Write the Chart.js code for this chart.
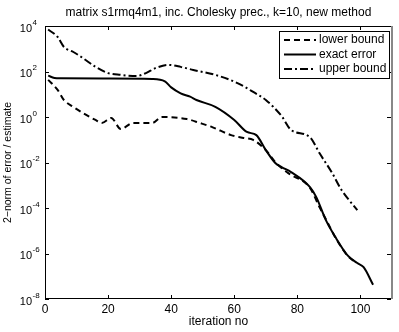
<!DOCTYPE html>
<html>
<head>
<meta charset="utf-8">
<title>matrix s1rmq4m1, inc. Cholesky prec., k=10, new method</title>
<script src="https://cdn.jsdelivr.net/npm/chart.js@4.4.0/dist/chart.umd.min.js"></script>
<style>
  html, body { margin: 0; padding: 0; background: #fff; }
  #wrap { width: 399px; height: 332px; }
</style>
</head>
<body>
<div id="wrap"><canvas id="chart" width="399" height="332"></canvas></div>
<script>
// Values (iteration no, 2-norm value)
const lowerIter = [1, 4, 6, 9, 12, 16, 18, 21, 24, 28, 34, 37, 45, 49, 53, 59, 63, 66, 70, 73, 77, 84, 87, 89, 92, 96, 98];
const lowerVals = [43, 15.5, 5.6, 2.75, 1.5, 0.74, 0.55, 0.91, 0.3, 0.55, 0.55, 1.0, 0.81, 0.55, 0.36, 0.16, 0.12, 0.098,
                   0.035, 0.0105, 3.5e-3, 7.6e-4, 1.1e-4, 3.3e-5, 5.2e-6, 7.8e-7, 4.6e-7];

const exactIter = [1, 3, 5, 20, 34, 38, 40, 43, 46, 48, 54, 60, 64, 67, 70, 73, 75, 78, 84, 86, 89, 92, 96, 99, 101, 104];
const exactVals = [66, 52, 50, 49, 47, 37, 20, 11, 7.8, 5.6, 2.8, 0.74, 0.22, 0.16, 0.035, 9.5e-3, 6.3e-3, 3.8e-3,
                   8.3e-4, 3.0e-4, 3.0e-5, 5.4e-6, 8e-7, 3.8e-7, 2.5e-7, 4.2e-8];

const upperIter = [1, 4, 6, 9, 12, 16, 20, 24, 29, 32, 35, 39, 43, 47, 54, 61, 66, 70, 75, 78, 84, 87, 91, 94, 99];
const upperVals = [7000, 3300, 1200, 720, 390, 160, 85, 71, 63, 85, 140, 195, 160, 117, 71, 31, 12.6, 5.6, 1.1,
                   0.27, 0.13, 0.026, 3.5e-3, 6.2e-4, 8.1e-5];

const seriesNames = ['lower bound', 'exact error', 'upper bound'];
const xTicks = [0, 20, 40, 60, 80, 100];
const yTickExponents = [-8, -6, -4, -2, 0, 2, 4];

const FONT = '"Liberation Sans", Arial, Helvetica, sans-serif';
const DASHES = [[6, 4], [], [8, 3, 2, 3]];

function toPoints(iters, vals) {
    return iters.map((it, i) => ({ x: it, y: vals[i] }));
}

/**
 * Draws the MATLAB-like frame: box, inward ticks, tick labels, legend, title
 */
const matlabFrame = {
    id: 'matlabFrame',
    afterDraw(chart) {
        const { ctx, chartArea: a, scales: { x, y } } = chart;
        ctx.save();

        // box
        ctx.strokeStyle = '#000';
        ctx.lineWidth = 1;
        ctx.setLineDash([]);
        ctx.beginPath();
        ctx.moveTo(a.left + 0.5, a.top + 0.5);
        ctx.lineTo(a.left + 0.5, a.bottom - 0.5);
        ctx.lineTo(a.right - 0.5, a.bottom - 0.5);
        ctx.moveTo(a.left + 0.5, a.top + 0.5);
        ctx.lineTo(a.right - 0.5, a.top + 0.5);
        ctx.stroke();
        ctx.strokeStyle = '#888';
        ctx.lineWidth = 2;
        ctx.beginPath();
        ctx.moveTo(a.right, a.top);
        ctx.lineTo(a.right, a.bottom);
        ctx.stroke();

        // inward ticks
        ctx.strokeStyle = '#000';
        ctx.lineWidth = 1;
        ctx.beginPath();
        xTicks.forEach(v => {
            const px = Math.round(x.getPixelForValue(v)) + 0.5;
            ctx.moveTo(px, a.bottom); ctx.lineTo(px, a.bottom - 4);
            ctx.moveTo(px, a.top); ctx.lineTo(px, a.top + 4);
        });
        yTickExponents.forEach(e => {
            const py = Math.round(y.getPixelForValue(Math.pow(10, e))) + 0.5;
            ctx.moveTo(a.left, py); ctx.lineTo(a.left + 4, py);
            ctx.moveTo(a.right - 1, py); ctx.lineTo(a.right - 5, py);
        });
        ctx.stroke();

        // x tick labels
        ctx.fillStyle = '#000';
        ctx.font = '12px ' + FONT;
        ctx.textAlign = 'center';
        ctx.textBaseline = 'middle';
        xTicks.forEach(v => {
            ctx.fillText(String(v), x.getPixelForValue(v), a.bottom + 11);
        });

        // y tick labels as 10 with a raised exponent
        yTickExponents.forEach(e => {
            const py = y.getPixelForValue(Math.pow(10, e));
            ctx.font = '11px ' + FONT;
            ctx.textAlign = 'right';
            ctx.textBaseline = 'middle';
            ctx.fillText('10', 32, py + 2.5);
            ctx.font = '8px ' + FONT;
            ctx.textAlign = 'left';
            ctx.fillText(e < 0 ? '-' + Math.abs(e) : String(e), 32.5, py - 3.5);
        });

        // title
        ctx.font = '12px ' + FONT;
        ctx.textAlign = 'center';
        ctx.textBaseline = 'middle';
        ctx.fillText('matrix s1rmq4m1, inc. Cholesky prec., k=10, new method', (a.left + a.right) / 2, 13);

        // legend
        const lx = 279, ly = 31, lw = 110, lh = 47;
        ctx.fillStyle = '#fff';
        ctx.fillRect(lx, ly, lw, lh);
        ctx.strokeStyle = '#000';
        ctx.lineWidth = 1;
        ctx.strokeRect(lx + 0.5, ly + 0.5, lw, lh);
        seriesNames.forEach((name, i) => {
            const ry = 40 + i * 14.5;
            ctx.setLineDash(DASHES[i]);
            ctx.lineWidth = 2;
            ctx.beginPath();
            ctx.moveTo(284, ry);
            ctx.lineTo(316, ry);
            ctx.stroke();
            ctx.setLineDash([]);
            ctx.fillStyle = '#000';
            ctx.font = '12px ' + FONT;
            ctx.textAlign = 'left';
            ctx.textBaseline = 'middle';
            ctx.fillText(name, 319, ry);
        });
        ctx.restore();
    }
};

const seriesData = [
    toPoints(lowerIter, lowerVals),
    toPoints(exactIter, exactVals),
    toPoints(upperIter, upperVals)
];

new Chart(document.getElementById('chart'), {
    type: 'line',
    data: {
        datasets: seriesNames.map((name, i) => ({
            label: name,
            data: seriesData[i],
            borderColor: '#000',
            borderWidth: 2,
            borderDash: DASHES[i],
            pointRadius: 0,
            fill: false,
            cubicInterpolationMode: 'monotone'
        }))
    },
    options: {
        responsive: false,
        animation: false,
        devicePixelRatio: 1,
        layout: { padding: { top: 26, right: 7, left: 0, bottom: 0 } },
        plugins: {
            legend: { display: false },
            title: { display: false },
            tooltip: { enabled: false }
        },
        scales: {
            x: {
                type: 'linear',
                min: 0,
                max: 110,
                afterBuildTicks: s => { s.ticks = xTicks.map(v => ({ value: v })); },
                afterFit: s => { s.height = 33; },
                grid: { display: false, drawTicks: false },
                border: { display: false },
                ticks: { display: false },
                title: {
                    display: true,
                    text: 'iteration no',
                    color: '#000',
                    padding: { top: 0, bottom: 3 },
                    font: { family: FONT, size: 12 }
                }
            },
            y: {
                type: 'logarithmic',
                min: 1e-8,
                max: 1e4,
                afterBuildTicks: s => { s.ticks = yTickExponents.map(e => ({ value: Math.pow(10, e) })); },
                afterFit: s => { s.width = 45; },
                grid: { display: false, drawTicks: false },
                border: { display: false },
                ticks: { callback: () => '' },
                title: {
                    display: true,
                    text: '2\u2212norm of error / estimate',
                    color: '#000',
                    padding: { top: 2, bottom: 0 },
                    font: { family: FONT, size: 10.5 }
                }
            }
        }
    },
    plugins: [matlabFrame]
});
</script>
</body>
</html>
